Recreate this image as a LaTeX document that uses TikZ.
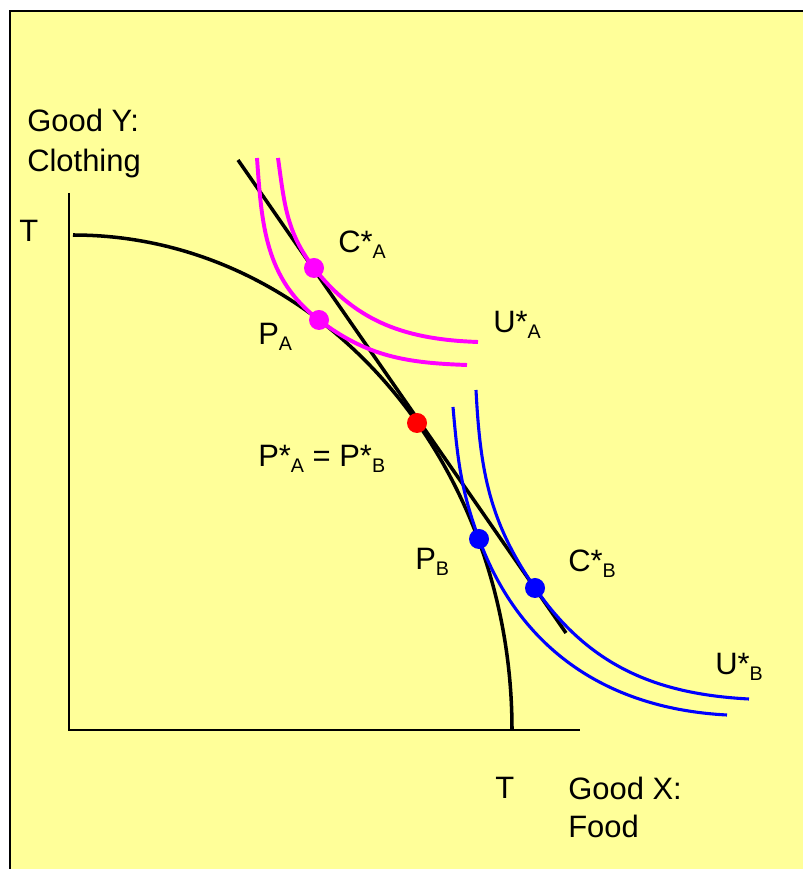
\documentclass[tikz,border=0pt]{standalone}
\usepackage{fontspec}
\setmainfont{Liberation Sans}
\usetikzlibrary{positioning}
\definecolor{paper}{RGB}{255,255,153}
\definecolor{indA}{RGB}{255,0,255}
\definecolor{indB}{RGB}{0,0,255}
\newcommand\lowsub[1]{\raisebox{-4pt}{\fontsize{14}{14}\selectfont #1}}

\begin{document}
\begin{tikzpicture}[
  x=0.025cm, y=0.025cm,
  font=\fontsize{22}{26}\selectfont,
  lbl/.style={anchor=base west, inner sep=0pt},
  dot/.style={circle, inner sep=0pt, minimum size=0.5cm},
  curve/.style={line width=2.5pt},
  icA/.style={indA, line width=2.8pt},
  icB/.style={indB, line width=2.2pt},
]
\useasboundingbox (0,0) rectangle (803,869);

%% BACKGROUND
\fill[paper] (11,0) rectangle (803,857);
\draw[line width=1.6pt] (10,0) -- (10,858) -- (803,858);

%% AXES
\coordinate (O)    at (69,139);
\coordinate (Ytop) at (69,676);
\coordinate (Xend) at (580,139);
\draw[line width=1.4pt] (Ytop) -- (O) -- (Xend);

%% PPF and price line
\draw[curve] (73,634) arc[start angle=90, end angle=0, x radius=439, y radius=495];

\coordinate (L1) at (238,709);
\coordinate (L2) at (566,236);
\draw[curve] (L1) -- (L2);

\coordinate (CA) at (314,601);
\coordinate (PA) at (319,549);
\coordinate (Ps) at (417,446);
\coordinate (PB) at (479,330);
\coordinate (CB) at (535,281);

%% INDIFFERENCE CURVES
\draw[icA] (278,711) to[out=-82, in=128] (CA) to[out=-52, in=178] (478,527);
\draw[icA] (257,711) to[out=-86, in=142.7] (PA) to[out=-37.3, in=178] (467,504);
\draw[icB] (476,479) to[out=-87, in=124.7] (CB) to[out=-55.3, in=177] (749,170);
\draw[icB] (453,462) to[out=-85, in=110.3] (PB) to[out=-69.7, in=177] (727,154);

%% POINTS
\node[dot, fill=indA] (dCA) at (CA) {};
\node[dot, fill=indA] (dPA) at (PA) {};
\node[dot, fill=red]  (dPs) at (Ps) {};
\node[dot, fill=indB] (dPB) at (PB) {};
\node[dot, fill=indB] (dCB) at (CB) {};

%% LABELS
\node[lbl] (labYa) at (27,737) {Good Y:};
\node[lbl] (labYb) at (27,697) {Clothing};
\node[lbl] (labTY) at (19,627) {T};
\node[lbl] (labCA) at (338,616) {C*\lowsub{A}};
\node[lbl] (labUA) at (493,536) {U*\lowsub{A}};
\node[lbl] (labPA) at (258,524) {P\lowsub{A}};
\node[lbl] (labPs) at (258,402) {P*\lowsub{A} = P*\lowsub{B}};
\node[lbl] (labPB) at (415,299) {P\lowsub{B}};
\node[lbl] (labCB) at (568,297) {C*\lowsub{B}};
\node[lbl] (labUB) at (715,194) {U*\lowsub{B}};
\node[lbl] (labTX) at (495,70) {T};
\node[lbl] (labXa) at (568,69) {Good X:};
\node[lbl] (labXb) at (568,31) {Food};

\end{tikzpicture}
\end{document}
